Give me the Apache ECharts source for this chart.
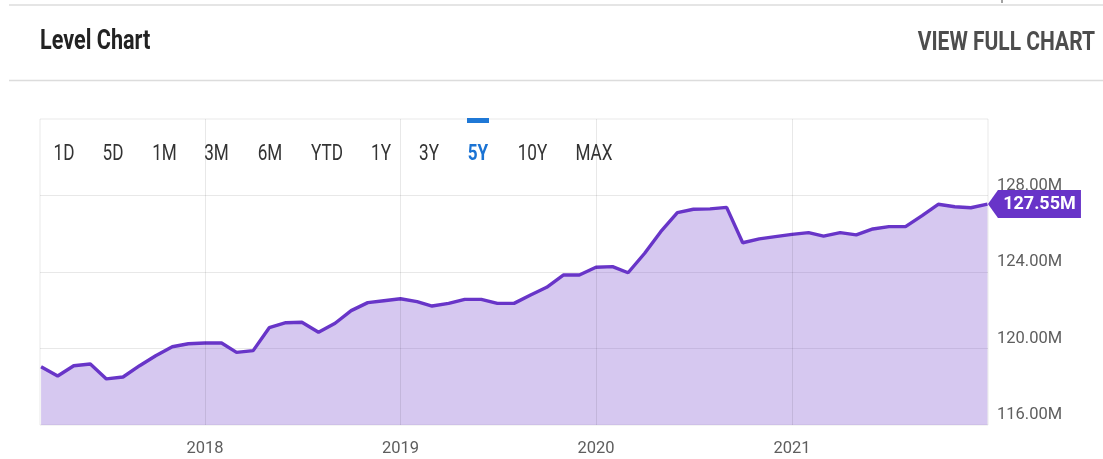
<!DOCTYPE html>
<html>
<head>
<meta charset="utf-8">
<script src="https://cdn.jsdelivr.net/npm/echarts@6/dist/echarts.min.js"></script>
<style>
html,body{margin:0;padding:0;background:#fff;}
#chart{width:1103px;height:459px;}
</style>
</head>
<body>
<div id="chart"></div>
<script>
const months = [
  '2017-03-01','2017-04-01','2017-05-01','2017-06-01','2017-07-01','2017-08-01','2017-09-01','2017-10-01','2017-11-01','2017-12-01',
  '2018-01-01','2018-02-01','2018-03-01','2018-04-01','2018-05-01','2018-06-01','2018-07-01','2018-08-01','2018-09-01','2018-10-01','2018-11-01','2018-12-01',
  '2019-01-01','2019-02-01','2019-03-01','2019-04-01','2019-05-01','2019-06-01','2019-07-01','2019-08-01','2019-09-01','2019-10-01','2019-11-01','2019-12-01',
  '2020-01-01','2020-02-01','2020-03-01','2020-04-01','2020-05-01','2020-06-01','2020-07-01','2020-08-01','2020-09-01','2020-10-01','2020-11-01','2020-12-01',
  '2021-01-01','2021-02-01','2021-03-01','2021-04-01','2021-05-01','2021-06-01','2021-07-01','2021-08-01','2021-09-01','2021-10-01','2021-11-01','2021-12-01',
  '2022-01-01'
];
const levels = [
  119.05,118.56,119.10,119.19,118.41,118.51,119.10,119.62,120.09,120.25,
  120.29,120.29,119.80,119.89,121.09,121.35,121.37,120.85,121.32,121.98,122.40,122.50,
  122.60,122.45,122.22,122.36,122.57,122.57,122.36,122.36,122.80,123.20,123.84,123.84,
  124.25,124.28,123.96,124.98,126.11,127.10,127.28,127.30,127.38,125.53,125.73,125.85,
  125.97,126.06,125.88,126.06,125.94,126.25,126.37,126.37,126.95,127.54,127.41,127.36,
  127.55
];
const yearTicks = ['2018','2019','2020','2021'];
const rangeButtons = ['1D','5D','1M','3M','6M','YTD','1Y','3Y','5Y','10Y','MAX'];
const activeRange = '5Y';
const title = 'Level Chart';
const linkText = 'VIEW FULL CHART';

const buttonX = [64,113,164.5,216.5,270,327,381,429,478,532.5,594];
const gridColor = 'rgba(0,0,0,0.09)';
const lineColor = '#6835c8';
const axisFont = "Roboto,sans-serif";

const chart = echarts.init(document.getElementById('chart'), null, {renderer:'canvas'});
const seriesData = months.map((m,i)=>[m, levels[i]]);
const last = seriesData[seriesData.length-1];

const graphics = [
  {type:'line', shape:{x1:9,y1:5,x2:1103,y2:5}, style:{stroke:'#dcdcdc', lineWidth:1.5}},
  {type:'line', shape:{x1:1002,y1:0,x2:1002,y2:3}, style:{stroke:'#444', lineWidth:1}},
  {type:'line', shape:{x1:9,y1:80.5,x2:1103,y2:80.5}, style:{stroke:'#dcdcdc', lineWidth:1.5}},
  {type:'text', x:40, y:42, scaleX:0.8, style:{text:title, fill:'#222', font:'bold 27px Roboto', align:'left', verticalAlign:'middle'}},
  {type:'text', x:1095, y:44, scaleX:0.84, style:{text:linkText, fill:'#4d4d4d', font:'bold 25px Roboto', align:'right', verticalAlign:'middle'}},
  {type:'rect', shape:{x:467,y:118,width:22,height:5}, style:{fill:'#1f78d6'}, z:10}
];
rangeButtons.forEach((b,i)=>{
  const active = b===activeRange;
  graphics.push({type:'text', x:buttonX[i], y:154, scaleX:0.78, z:10,
    style:{text:b, fill: active ? '#1a73d4' : '#333', font:(active?'bold ':'')+'22px Roboto', align:'center', verticalAlign:'middle'}});
});

chart.setOption({
  animation:false,
  grid:{left:40, right:115, top:119, bottom:34, show:true, borderColor:gridColor, borderWidth:1, backgroundColor:'transparent'},
  xAxis:{
    type:'time',
    min:'2017-02-27', max:'2022-01-02',
    axisLabel:{show:false}, axisTick:{show:false}, axisLine:{show:false}, splitLine:{show:false}
  },
  yAxis:{
    type:'value', position:'right', min:116, max:132, interval:4,
    axisLine:{show:false}, axisTick:{show:false},
    splitLine:{show:true, showMinLine:false, showMaxLine:false, lineStyle:{color:gridColor, width:1}},
    axisLabel:{
      showMaxLabel:false, margin:9, color:'#5e5e5e', fontSize:16.5, fontFamily:axisFont,
      verticalAlign:'bottom', lineHeight:20,
      formatter:v=>v.toFixed(2)+'M'
    }
  },
  graphic:graphics,
  series:[{
    type:'line', data:seriesData, symbol:'none', smooth:false,
    lineStyle:{color:lineColor, width:3.4},
    itemStyle:{color:lineColor},
    areaStyle:{color:'rgba(104,53,200,0.27)', opacity:1},
    markLine:{
      silent:true, symbol:'none',
      lineStyle:{color:gridColor, type:'solid', width:1},
      label:{show:true, position:'start', distance:15, color:'#5e5e5e', fontSize:16.5, fontFamily:axisFont},
      data:yearTicks.map(y=>({xAxis:y+'-01-01', label:{formatter:y}}))
    },
    markPoint:{
      silent:true,
      symbol:'path://M0,14L10,0L93,0L93,28L10,28Z',
      symbolSize:[93,28],
      symbolKeepAspect:false,
      symbolOffset:[47,0],
      itemStyle:{color:'#6834c8'},
      label:{show:true, position:'inside', offset:[5,0], color:'#fff', fontSize:18, fontWeight:'bold', fontFamily:axisFont,
        formatter:()=>last[1].toFixed(2)+'M'},
      data:[{coord:last, value:last[1]}]
    }
  }]
});
</script>
</body>
</html>
